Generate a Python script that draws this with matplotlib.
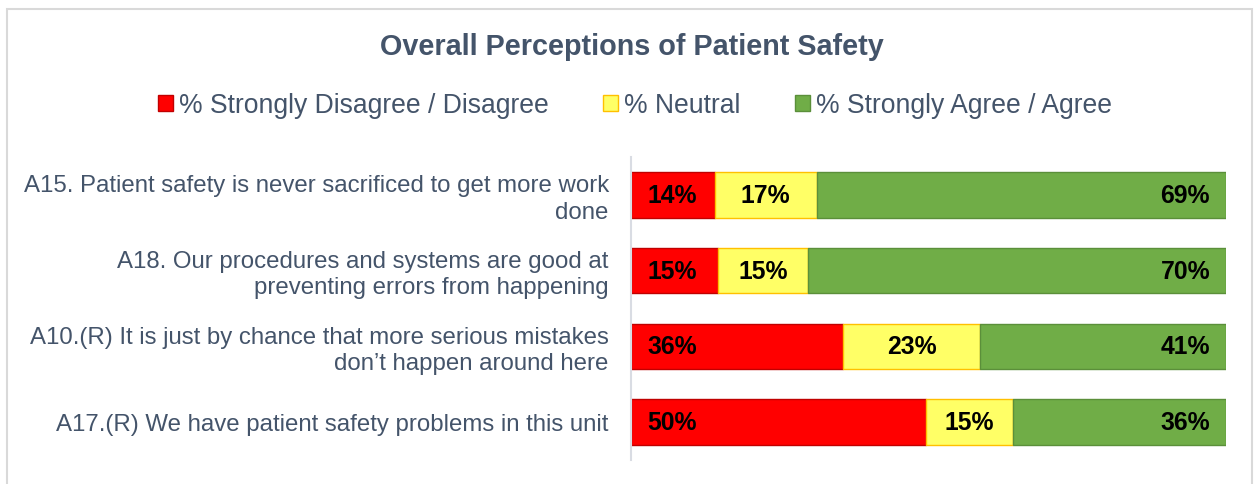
import numpy as np
import matplotlib.pyplot as plt
from matplotlib.patches import Rectangle, Patch

plt.rcParams['font.family'] = ['Liberation Sans', 'DejaVu Sans']

# data (percent of respondents)
questions = ["A15. Patient safety is never sacrificed to get more work\ndone",
             "A18. Our procedures and systems are good at\npreventing errors from happening",
             "A10.(R) It is just by chance that more serious mistakes\ndon\u2019t happen around here",
             "A17.(R) We have patient safety problems in this unit"]
disagree = np.array([14.1, 14.6, 35.6, 49.6])
neutral = np.array([17.1, 15.1, 23.1, 14.6])
agree = np.array([68.8, 70.3, 41.3, 35.8])
series_names = ["% Strongly Disagree / Disagree", "% Neutral", "% Strongly Agree / Agree"]

txt = '#44546A'
fills = ['#FF0000', '#FFFF66', '#70AD47']
edges = ['#C00000', '#FFC000', '#5B8F3A']

fig = plt.figure(figsize=(12.55, 4.84), dpi=100)
ax = fig.add_axes([0.5028, 0.0496, 0.4741, 0.626])

y = np.arange(len(questions))
h = 0.6
ax.barh(y, disagree, height=h, color=fills[0], edgecolor=edges[0], lw=1)
ax.barh(y, neutral, left=disagree, height=h, color=fills[1], edgecolor=edges[1], lw=1)
ax.barh(y, agree, left=disagree + neutral, height=h, color=fills[2], edgecolor=edges[2], lw=1)

# value labels: red inside base, yellow centred, green inside end
lab = dict(fontsize=17.8, fontweight='bold', color='black', va='center')
for i in range(len(questions)):
    ax.annotate(f"{disagree[i]:.0f}%", (0, i), xytext=(16, -1), textcoords='offset pixels', ha='left', **lab)
    ax.annotate(f"{neutral[i]:.0f}%", (disagree[i] + neutral[i] / 2, i), xytext=(0, -1),
                textcoords='offset pixels', ha='center', **lab)
    ax.annotate(f"{agree[i]:.0f}%", (100, i), xytext=(-16, -1), textcoords='offset pixels', ha='right', **lab)

ax.set_xlim(0, 100)
ax.set_ylim(3.5, -0.5)
ax.set_xticks([])
ax.set_yticks(y)
ax.set_yticklabels(questions, fontsize=17.3, color=txt, linespacing=1.25)
ax.tick_params(axis='y', length=0, pad=16)
for s in ['top', 'right', 'bottom']:
    ax.spines[s].set_visible(False)
ax.spines['left'].set_color('#D9DCE3')
ax.spines['left'].set_linewidth(1.5)

fig.text(0.5036, 0.903, "Overall Perceptions of Patient Safety", ha='center', va='center',
         fontsize=20.7, fontweight='bold', color=txt)

handles = [Patch(facecolor=fills[k], edgecolor=edges[k], lw=1) for k in range(3)]
fig.legend(handles, series_names, loc='center', bbox_to_anchor=(0.506, 0.782), ncol=3,
           frameon=False, fontsize=19.1, labelcolor=txt, handlelength=0.57, handleheight=0.57,
           handletextpad=0.23, columnspacing=2.05)

fig.patches.append(Rectangle((0.0056, -0.05), 0.992, 1.031, transform=fig.transFigure,
                             fill=False, edgecolor='#D9D9D9', lw=1.5))

fig.savefig('out.png', dpi=100, facecolor='white')
